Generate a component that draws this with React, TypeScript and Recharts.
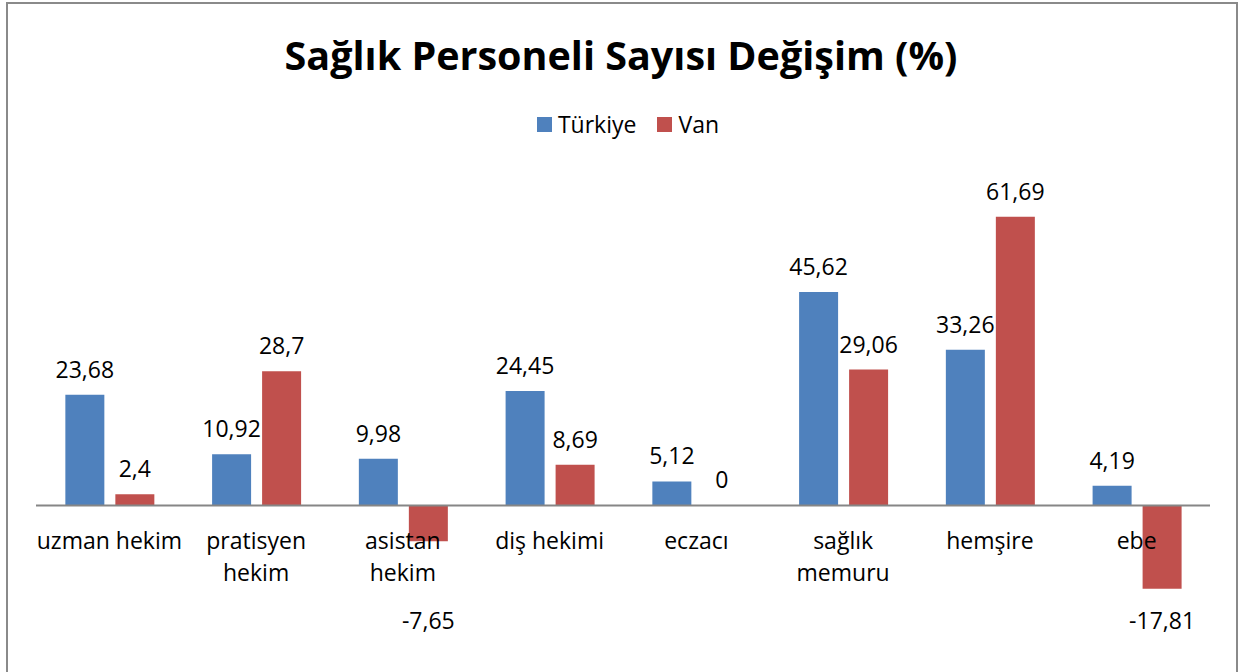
import { Bar, BarChart, Legend, ReferenceLine, XAxis, YAxis } from 'recharts';

const categories = [
  'uzman hekim',
  'pratisyen hekim',
  'asistan hekim',
  'diş hekimi',
  'eczacı',
  'sağlık memuru',
  'hemşire',
  'ebe',
];
const turkiye = [23.68, 10.92, 9.98, 24.45, 5.12, 45.62, 33.26, 4.19];
const van = [2.4, 28.7, -7.65, 8.69, 0, 29.06, 61.69, -17.81];

const data = categories.map((name, i) => ({ name, turkiye: turkiye[i], van: van[i] }));

const W = 1242;
const H = 672;
const FONT = '"Open Sans", sans-serif';
const Y_MIN = -20;
const Y_MAX = 70;
const PLOT_TOP = 178;
const PLOT_H = 421;
const ZERO_Y = PLOT_TOP + (PLOT_H * Y_MAX) / (Y_MAX - Y_MIN);

const fmt = (v: number) => String(v).replace('.', ',');

// a zero bar gets no label in recharts unless it has some height
const zeroSize = (v: number) => (v === 0 ? 0.3 : 0);

function renderValueLabel(props: any) {
  const vb = props.viewBox ?? props;
  const x = Number(vb.x ?? props.x);
  const y = Number(vb.y ?? props.y);
  const width = Number(vb.width ?? props.width);
  const height = Number(vb.height ?? props.height) || 0;
  const v = Number(props.value);
  const top = Math.min(y, y + height);
  const bottom = Math.max(y, y + height);
  const ty = v < 0 ? Math.max(bottom + 30, ZERO_Y + 115) : top - 26;
  return (
    <text
      key={`${x}-${v}`}
      x={x + width / 2}
      y={ty}
      textAnchor="middle"
      dominantBaseline="central"
      fontFamily={FONT}
      fontSize={23}
      fill="#000"
    >
      {fmt(v)}
    </text>
  );
}

function CategoryTick(props: any) {
  const { x, payload } = props;
  const label: string = payload.value;
  const lines = label.length > 12 ? label.split(' ') : [label];
  return (
    <g>
      {lines.map((l, i) => (
        <text
          key={l}
          x={x}
          y={ZERO_Y + 35 + i * 32}
          textAnchor="middle"
          dominantBaseline="central"
          fontFamily={FONT}
          fontSize={23}
          fill="#000"
        >
          {l}
        </text>
      ))}
    </g>
  );
}

function LegendContent(props: any) {
  const items = props.payload ?? [];
  return (
    <div style={{ display: 'flex', justifyContent: 'center', gap: 21, fontFamily: FONT, fontSize: 23 }}>
      {items.map((it: any) => (
        <div key={it.value} style={{ display: 'flex', alignItems: 'center', gap: 6 }}>
          <span style={{ width: 15, height: 15, background: it.color, display: 'inline-block' }} />
          <span>{it.value}</span>
        </div>
      ))}
    </div>
  );
}

export default function App() {
  return (
    <div
      style={{
        position: 'absolute',
        left: 0,
        top: 0,
        width: W,
        height: H,
        overflow: 'hidden',
        background: '#fff',
      }}
    >
      <div
        style={{
          position: 'absolute',
          left: 6,
          top: 2,
          width: 1232,
          height: 700,
          border: '2px solid #8a8a8a',
          boxSizing: 'border-box',
        }}
      />
      <div
        style={{
          position: 'absolute',
          left: 0,
          top: 30,
          width: W,
          textAlign: 'center',
          fontFamily: FONT,
          fontWeight: 700,
          fontSize: 39.5,
          lineHeight: '50px',
          color: '#000',
        }}
      >
        Sağlık Personeli Sayısı Değişim (%)
      </div>
      <div style={{ position: 'absolute', left: 0, top: 0 }}>
        <BarChart
          width={W}
          height={H}
          data={data}
          margin={{ top: PLOT_TOP, right: 32, bottom: H - PLOT_TOP - PLOT_H - 1, left: 36 }}
          barCategoryGap="20%"
          barGap={11}
        >
          <XAxis dataKey="name" height={1} axisLine={false} tickLine={false} tick={CategoryTick} interval={0} />
          <YAxis hide domain={[Y_MIN, Y_MAX]} allowDataOverflow />
          <Legend
            verticalAlign="middle"
            align="center"
            content={<LegendContent />}
            wrapperStyle={{ top: 108, left: 7, width: W }}
          />
          <Bar dataKey="turkiye" name="Türkiye" fill="#4F81BD" isAnimationActive={false} label={renderValueLabel} />
          <Bar
            dataKey="van"
            name="Van"
            fill="#C0504D"
            isAnimationActive={false}
            minPointSize={zeroSize}
            label={renderValueLabel}
          />
          <ReferenceLine y={0} stroke="#868686" strokeWidth={2} />
        </BarChart>
      </div>
    </div>
  );
}
